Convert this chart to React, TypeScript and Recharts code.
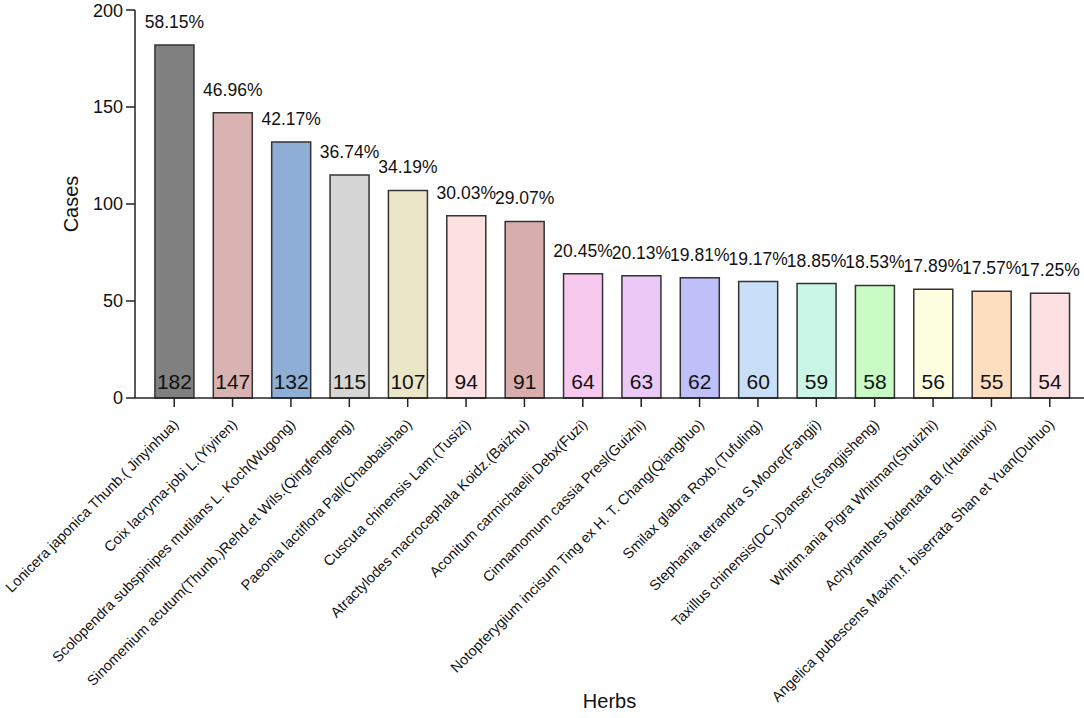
import React from "react";
import { BarChart, Bar, XAxis, YAxis, Cell, LabelList, Label } from "recharts";

const herbs = [
  "Lonicera japonica Thunb.( Jinyinhua)",
  "Coix lacryma-jobi L.(Yiyiren)",
  "Scolopendra subspinipes mutilans L. Koch(Wugong)",
  "Sinomenium acutum(Thunb.)Rehd.et Wils.(Qingfengteng)",
  "Paeonia lactiflora Pall(Chaobaishao)",
  "Cuscuta chinensis Lam.(Tusizi)",
  "Atractylodes macrocephala Koidz.(Baizhu)",
  "Aconitum carmichaelii Debx(Fuzi)",
  "Cinnamomum cassia Presl(Guizhi)",
  "Notopterygium incisum Ting ex H. T. Chang(Qianghuo)",
  "Smilax glabra Roxb.(Tufuling)",
  "Stephania tetrandra S.Moore(Fangji)",
  "Taxillus chinensis(DC.)Danser.(Sangjisheng)",
  "Whitm.ania Pigra Whitman(Shuizhi)",
  "Achyranthes bidentata Bl.(Huainiuxi)",
  "Angelica pubescens Maxim.f. biserrata Shan et Yuan(Duhuo)",
];

const cases = [182, 147, 132, 115, 107, 94, 91, 64, 63, 62, 60, 59, 58, 56, 55, 54];

const percents = [
  "58.15%", "46.96%", "42.17%", "36.74%", "34.19%", "30.03%", "29.07%", "20.45%",
  "20.13%", "19.81%", "19.17%", "18.85%", "18.53%", "17.89%", "17.57%", "17.25%",
];

const colors = [
  "#808080", "#d9b2b2", "#8eaed6", "#d6d6d6", "#ebe6c8", "#fde0e1", "#d7adad", "#f8c9ef",
  "#ebc9f6", "#bfbff9", "#c9dff8", "#c9f6e7", "#c9fbc4", "#fefee0", "#fddfc0", "#fde0e1",
];

const yTicks = [0, 50, 100, 150, 200];

const data = herbs.map((name, i) => ({ name, cases: cases[i], pct: percents[i] }));

const FONT = "Arial, 'Liberation Sans', Helvetica, sans-serif";

const HerbTick = (props: any) => {
  const { x, y, payload } = props;
  return (
    <g transform={`translate(${x - 2},${y + 9})`}>
      <text
        x={0}
        y={0}
        dy="0.71em"
        textAnchor="end"
        transform="rotate(-45)"
        fontSize={14.5}
        fontFamily={FONT}
        fill="#111"
      >
        {payload.value}
      </text>
    </g>
  );
};

export default function App() {
  return (
    <div style={{ position: "absolute", left: 0, top: 0, background: "#fff" }}>
      <BarChart
        width={1084}
        height={718}
        data={data}
        margin={{ top: 10, right: 0, bottom: 0, left: 0 }}
        barCategoryGap="17%"
      >
        <XAxis
          dataKey="name"
          interval={0}
          height={320}
          tick={<HerbTick />}
          tickSize={9}
          padding={{ left: 10, right: 5 }}
          axisLine={{ stroke: "#222", strokeWidth: 1.5 }}
          tickLine={{ stroke: "#222", strokeWidth: 1.5 }}
        >
          <Label
            value="Herbs"
            position="insideBottom"
            offset={10}
            style={{ fontSize: 20, fontFamily: FONT, fill: "#111" }}
          />
        </XAxis>
        <YAxis
          width={135}
          domain={[0, 200]}
          ticks={yTicks}
          tickSize={9}
          tickMargin={3}
          tick={{ fontSize: 18, fontFamily: FONT, fill: "#111" }}
          axisLine={{ stroke: "#222", strokeWidth: 1.5 }}
          tickLine={{ stroke: "#222", strokeWidth: 1.5 }}
        >
          <Label
            value="Cases"
            angle={-90}
            position="center"
            dx={3}
            style={{ fontSize: 20, fontFamily: FONT, fill: "#111", textAnchor: "middle" }}
          />
        </YAxis>
        <Bar dataKey="cases" isAnimationActive={false} stroke="#333" strokeWidth={1.5}>
          {data.map((d, i) => (
            <Cell key={d.name} fill={colors[i]} />
          ))}
          <LabelList
            dataKey="cases"
            position="insideBottom"
            offset={9}
            style={{ fontSize: 21, fontFamily: FONT, fill: "#111" }}
          />
          <LabelList
            dataKey="pct"
            position="top"
            offset={17}
            style={{ fontSize: 17.5, fontFamily: FONT, fill: "#111" }}
          />
        </Bar>
      </BarChart>
    </div>
  );
}
